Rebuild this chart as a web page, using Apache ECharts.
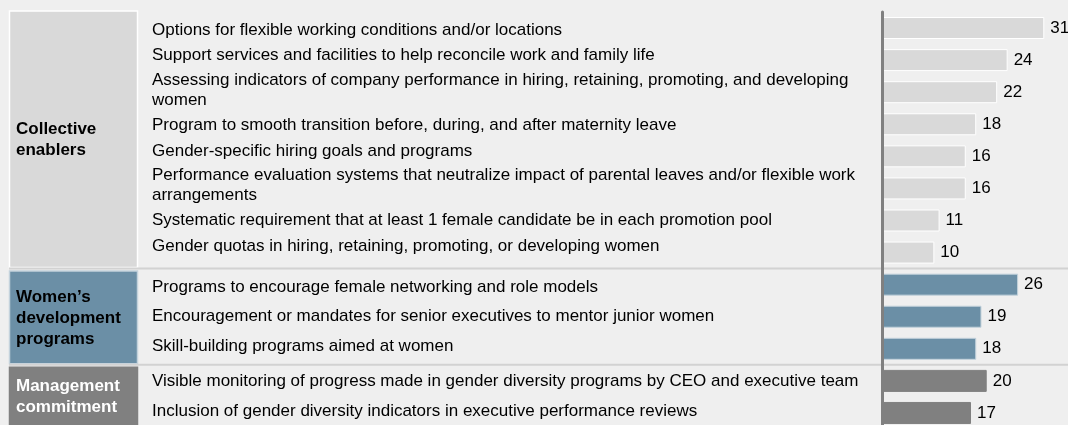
<!DOCTYPE html>
<html>
<head>
<meta charset="utf-8">
<script src="https://cdn.jsdelivr.net/npm/echarts@6/dist/echarts.min.js"></script>
<style>
    html, body { margin: 0; padding: 0; background: #efefef; }
    #myChart { width: 1068px; height: 425px; }
</style>
</head>
<body>
<div id="myChart"></div>
<script>
// 分组（左侧色块）
const groupNames = ['Collective\nenablers', 'Women\u2019s\ndevelopment\nprograms', 'Management\ncommitment'];
const groupSizes = [8, 3, 2];
const groupColors = ['#d9d9d9', '#6b8fa6', '#808080'];
const groupBorders = ['#ffffff', '#c3d2dc', '#808080'];
const groupTextColors = ['#000000', '#000000', '#ffffff'];

// 各项措施（从上到下）
const items = [
    'Options for flexible working conditions and/or locations',
    'Support services and facilities to help reconcile work and family life',
    'Assessing indicators of company performance in hiring, retaining, promoting, and developing\nwomen',
    'Program to smooth transition before, during, and after maternity leave',
    'Gender-specific hiring goals and programs',
    'Performance evaluation systems that neutralize impact of parental leaves and/or flexible work\narrangements',
    'Systematic requirement that at least 1 female candidate be in each promotion pool',
    'Gender quotas in hiring, retaining, promoting, or developing women',
    'Programs to encourage female networking and role models',
    'Encouragement or mandates for senior executives to mentor junior women',
    'Skill-building programs aimed at women',
    'Visible monitoring of progress made in gender diversity programs by CEO and executive team',
    'Inclusion of gender diversity indicators in executive performance reviews'
];
const values = [31, 24, 22, 18, 16, 16, 11, 10, 26, 19, 18, 20, 17];

// 文字相对条形中心的微调（px，正数向下）
const labelNudge = [2, -5, -2, 1, -5, -3, 0, -6, 3, 0, -2, 0, -2];

const fontFamily = '"Liberation Sans", Arial, sans-serif';

// 每一项属于哪个分组
let itemGroup = [];
let groupRanges = [];
let start = 0;
groupSizes.forEach((n, gi) => {
    for (let i = 0; i < n; i++) itemGroup.push(gi);
    groupRanges.push([start, start + n, gi]);
    start += n;
});

let barData = values.map((v, i) => ({
    value: v,
    itemStyle: {
        color: groupColors[itemGroup[i]],
        borderColor: groupBorders[itemGroup[i]],
        borderWidth: 1
    }
}));

// 每个标签一个 rich 样式，用 padding 做上下微调
let labelRich = {};
labelNudge.forEach((d, i) => {
    labelRich['n' + i] = {
        color: '#000',
        fontSize: 17,
        fontFamily: fontFamily,
        lineHeight: 20,
        padding: d >= 0 ? [2 * d, 0, 0, 0] : [0, 0, -2 * d, 0]
    };
});

let myChart = echarts.init(document.getElementById('myChart'));
myChart.setOption({
    animation: false,
    backgroundColor: '#efefef',
    grid: [
        { left: 882, right: 8, top: 12, height: 417, outerBoundsMode: 'none' },
        { left: 9, width: 128, top: 12, height: 417, outerBoundsMode: 'none' }
    ],
    xAxis: [
        { type: 'value', gridIndex: 0, min: 0, max: 34, show: false },
        { type: 'value', gridIndex: 1, min: 0, max: 1, show: false }
    ],
    yAxis: [
        {
            type: 'category',
            gridIndex: 0,
            inverse: true,
            data: items,
            z: 10,
            axisLine: { show: true, lineStyle: { color: '#808080', width: 3 } },
            axisTick: { show: false },
            axisLabel: {
                align: 'left',
                margin: 730,
                color: '#000',
                fontSize: 17,
                lineHeight: 20,
                fontFamily: fontFamily,
                formatter: function (value, index) {
                    return value.split('\n').map(s => '{n' + index + '|' + s + '}').join('\n');
                },
                rich: labelRich
            }
        },
        { type: 'value', gridIndex: 1, min: 0, max: 13, inverse: true, show: false }
    ],
    series: [
        {
            type: 'bar',
            xAxisIndex: 0,
            yAxisIndex: 0,
            barWidth: 22,
            data: barData,
            label: {
                show: true,
                position: 'right',
                distance: 6,
                color: '#000',
                fontSize: 17,
                fontFamily: fontFamily
            }
        },
        {
            // 左侧分组色块和分隔线
            type: 'custom',
            xAxisIndex: 1,
            yAxisIndex: 1,
            z: 1,
            data: groupRanges,
            renderItem: function (params, api) {
                let p0 = api.coord([0, api.value(0)]);
                let p1 = api.coord([1, api.value(1)]);
                let gi = api.value(2);
                let top = api.value(0) > 0 ? p0[1] + 2.5 : p0[1] - 1;
                let bottom = p1[1] - 1;
                let children = [
                    {
                        type: 'rect',
                        shape: { x: p0[0] + 0.5, y: top, width: p1[0] - p0[0], height: bottom - top },
                        style: { fill: groupColors[gi], stroke: groupBorders[gi], lineWidth: 1.5 }
                    },
                    {
                        type: 'text',
                        style: {
                            text: groupNames[gi],
                            x: p0[0] + 7,
                            y: (top + Math.min(bottom, api.getHeight())) / 2 + 1,
                            fill: groupTextColors[gi],
                            font: 'bold 17px ' + fontFamily,
                            lineHeight: 21,
                            align: 'left',
                            verticalAlign: 'middle'
                        }
                    }
                ];
                if (api.value(0) > 0) {
                    children.push({
                        type: 'line',
                        shape: { x1: p0[0], y1: p0[1], x2: api.getWidth(), y2: p0[1] },
                        style: { stroke: '#d2d2d2', lineWidth: 2 }
                    });
                }
                return { type: 'group', children: children };
            }
        }
    ]
});
</script>
</body>
</html>
